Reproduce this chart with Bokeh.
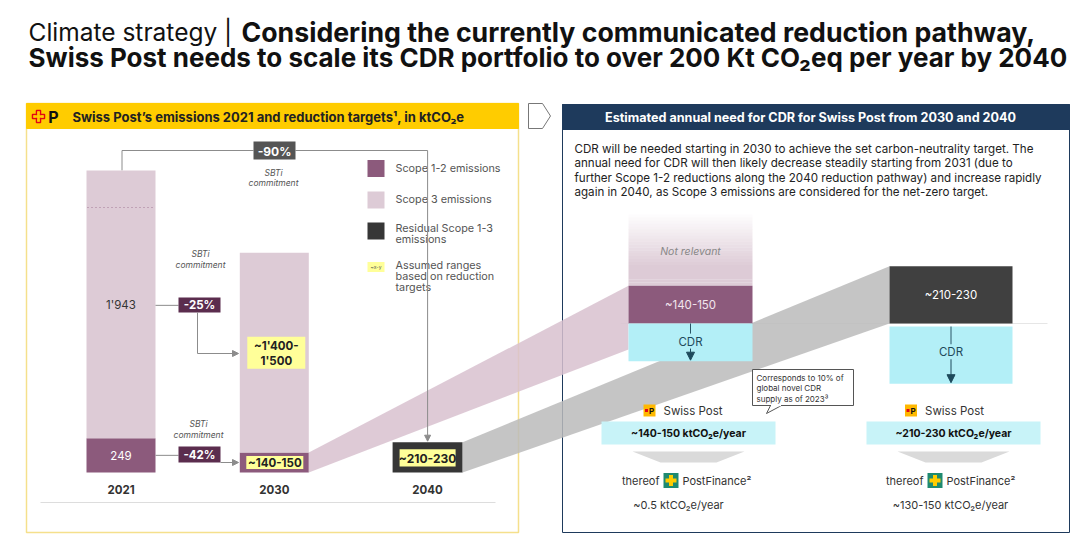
from bokeh.plotting import figure
from bokeh.models import Range1d, Arrow, NormalHead
from bokeh.core.properties import value
from bokeh.embed import file_html
from bokeh.resources import INLINE

# ---------------- data ----------------
years = ["2021", "2030", "2040"]
scope3_kt = [1943, 1450]            # 2021, 2030 (~1'400-1'500)
scope12_kt = [249, 145]             # 2021, 2030 (~140-150)
residual_kt = 220                   # 2040 (~210-230)
scope3_labels = [["1'943"], ["~1'400-", "1'500"]]
scope12_labels = ["249", "~140-150"]
residual_label = "~210-230"
reduction_labels = ["-25%", "-42%", "-90%"]
cdr_years = ["2030", "2040"]
cdr_need_kt = [145, 220]
cdr_top_labels = ["~140-150", "~210-230"]
cdr_need_labels = ["~140-150 ktCO\u2082e/year", "~210-230 ktCO\u2082e/year"]
postfinance_labels = ["~0.5 ktCO\u2082e/year", "~130-150 ktCO\u2082e/year"]
legend_labels = [["Scope 1-2 emissions"], ["Scope 3 emissions"],
                 ["Residual Scope 1-3", "emissions"],
                 ["Assumed ranges", "based on reduction", "targets"]]
paragraph = ["CDR will be needed starting in 2030 to achieve the set carbon-neutrality target. The",
             "annual need for CDR will then likely decrease steadily starting from 2031 (due to",
             "further Scope 1-2 reductions along the 2040 reduction pathway) and increase rapidly",
             "again in 2040, as Scope 3 emissions are considered for the net-zero target."]

# ---------------- colours ----------------
C_S3 = "#DDCBD6"
C_S12 = "#8C5A7C"
C_RES = "#363636"
C_YEL = "#FFFF99"
C_RED = "#5B2D4E"
C_CYAN = "#B3EFF7"
C_CYAN2 = "#C8F3F8"
C_NAVY = "#1E3A5C"
C_LINE = "#8C8C8C"
FONT = "Inter"

W, H = 1080, 537
p = figure(width=W, height=H, x_range=Range1d(0, W), y_range=Range1d(H, 0),
           output_backend="svg", toolbar_location=None, x_axis_type=None, y_axis_type=None,
           min_border=0)
p.outline_line_color = None
p.background_fill_color = "white"
p.border_fill_color = "white"


def box(x0, x1, y0, y1, fill, line=None, lw=1, alpha=1.0):
    p.quad(left=[x0], right=[x1], top=[y0], bottom=[y1], fill_color=fill, fill_alpha=alpha,
           line_color=line, line_width=lw)


def txt(x, y, s, size=11, color="#333333", style="normal", align="center",
        baseline="middle", font=FONT):
    p.text(x=[x], y=[y], text=[s], text_font=value(font), text_font_size=f"{size}px",
           text_color=color, text_font_style=style, text_align=align, text_baseline=baseline)


def arrow(x0, y0, x1, y1, color=C_LINE, size=6, lw=1):
    p.add_layout(Arrow(end=NormalHead(size=size, fill_color=color, line_color=color),
                       x_start=x0, y_start=y0, x_end=x1, y_end=y1,
                       line_color=color, line_width=lw))


# ---------------- title ----------------
txt(28, 31, "Climate strategy |", 24.5, "#111111", align="left", baseline="alphabetic")
txt(241, 31, "Considering the currently communicated reduction pathway,", 26.7, "#111111",
    "bold", align="left", baseline="alphabetic")
txt(28, 57, "Swiss Post needs to scale its CDR portfolio to over 200 Kt CO\u2082eq per year by 2040",
    26, "#111111", "bold", align="left", baseline="alphabetic")

# ---------------- panels ----------------
box(26, 518, 103, 532, None, "#F5E08C", 1.5)
box(26, 518, 103, 128, "#FFCC00", "#FFCC00")
# Swiss Post logo in header
box(36, 40, 110, 122, None, "#E30613", 1.5)
box(32, 44, 114, 118, None, "#E30613", 1.5)
box(36.7, 39.3, 111, 121, "#FFCC00", None)
box(33, 43, 114.7, 117.3, "#FFCC00", None)
txt(53, 116, "P", 16, "#111111", "bold")
txt(72, 116, "Swiss Post\u2019s emissions 2021 and reduction targets\u00b9, in ktCO\u2082e", 13,
    "#222222", "bold", align="left")
# chevron
p.patch([528, 542, 550, 542, 528], [103, 103, 115.5, 128, 128], fill_color="white",
        line_color="#777777", line_width=1)

box(562, 1069, 104, 532, None, C_NAVY, 1)
box(562, 1069, 104, 129, C_NAVY, C_NAVY)
txt(810, 116.5, "Estimated annual need for CDR for Swiss Post from 2030 and 2040", 12.6, "white", "bold")
for i, line in enumerate(paragraph):
    txt(574, 148 + i * 14.5, line, 11.6, "#222222", align="left")

# ---------------- left chart ----------------
L_BASE = 472.0
L_SCALE = 302.0 / 2192.0


def ly(v):
    return L_BASE - v * L_SCALE


bar_x = {yr: 120.5 + i * 153.3 for i, yr in enumerate(years)}
BW = 69

# separator and year labels
p.line([40, 495], [502, 502], line_color="#DDDDDD", line_width=1)
for yr in years:
    txt(bar_x[yr], 489, yr, 11.5, "#333333", "bold")

# -90% connector (drawn before the legend text)
x21, x40 = bar_x["2021"] + 1, bar_x["2040"]
p.line([x21, x21, 253], [ly(scope12_kt[0] + scope3_kt[0]), 150, 150], line_color=C_LINE)
p.line([295, x40], [150, 150], line_color=C_LINE)
arrow(x40, 150, x40, ly(residual_kt) - 1)

# bars
for i, yr in enumerate(years[:2]):
    xc = bar_x[yr]
    box(xc - BW / 2, xc + BW / 2, ly(0), ly(scope12_kt[i]), C_S12)
    box(xc - BW / 2, xc + BW / 2, ly(scope12_kt[i]), ly(scope12_kt[i] + scope3_kt[i]), C_S3)
# dotted line in 2021 bar
p.line([bar_x["2021"] - 34, bar_x["2021"] + 34], [207, 207], line_color="#C0A2B6",
       line_dash="2 2", line_width=1)

# labels 2021
y3_21 = (ly(scope12_kt[0]) + ly(scope12_kt[0] + scope3_kt[0])) / 2
y12_21 = (ly(0) + ly(scope12_kt[0])) / 2
txt(bar_x["2021"], y3_21 + 1, scope3_labels[0][0], 11.5, "#333333")
txt(bar_x["2021"], y12_21, scope12_labels[0], 11.5, "white")

# labels 2030 (assumed ranges)
xc = bar_x["2030"]
y3_30 = (ly(scope12_kt[1]) + ly(scope12_kt[1] + scope3_kt[1])) / 2
y12_30 = (ly(0) + ly(scope12_kt[1])) / 2
box(xc - 27, xc + 31, y3_30 - 16, y3_30 + 16, C_YEL)
txt(xc + 2, y3_30 - 7, scope3_labels[1][0], 11.5, "#222222", "bold")
txt(xc + 2, y3_30 + 8, scope3_labels[1][1], 11.5, "#222222", "bold")
box(xc - 28, xc + 29, y12_30 - 6.5, y12_30 + 6.5, C_YEL)
txt(xc + 0.5, y12_30 + 0.5, scope12_labels[1], 11.5, "#222222", "bold")

# 2040 residual
box(x40 - 35, x40 + 35, ly(0), ly(residual_kt), C_RES)
box(x40 - 28, x40 + 28, ly(0) - 6, ly(residual_kt) + 7, C_YEL)
txt(x40, (ly(0) + ly(residual_kt)) / 2 + 1, residual_label, 12, "#222222", "bold")

# reduction boxes
box(253, 295, 141, 159, "#555555")
txt(274, 150.5, reduction_labels[2], 12, "white", "bold")
txt(273, 172, "SBTi", 8.5, "#555555", "italic")
txt(273, 182, "commitment", 8.5, "#555555", "italic")

p.line([155, 178], [y3_21 + 1, y3_21 + 1], line_color=C_LINE)
box(178, 220, 297, 312, C_RED)
txt(199, 304.5, reduction_labels[0], 11.5, "white", "bold")
p.line([197, 197, 225], [312, 353, 353], line_color=C_LINE)
arrow(224, 353, 238, 353)
txt(200, 253, "SBTi", 8.5, "#555555", "italic")
txt(200, 264, "commitment", 8.5, "#555555", "italic")

p.line([155, 178], [y12_21, y12_21], line_color=C_LINE)
box(178, 220, 446, 462, C_RED)
txt(199, 454.5, reduction_labels[1], 11.5, "white", "bold")
arrow(220, 462, 238, 462)
txt(198, 423, "SBTi", 8.5, "#555555", "italic")
txt(198, 434, "commitment", 8.5, "#555555", "italic")

# legend
leg_fill = [C_S12, C_S3, C_RES]
leg_y = [168, 199.5, 230.5]
for f, yy in zip(leg_fill, leg_y):
    box(367, 384, yy - 8.5, yy + 8.5, f)
box(367, 384, 261.5, 271.5, C_YEL)
txt(375.5, 266.5, "~x-y", 5, "#555555")
leg_text_y = [[168], [199], [228, 239], [265, 276, 286.5]]
for lines, ys in zip(legend_labels, leg_text_y):
    for s, yy in zip(lines, ys):
        txt(395, yy, s, 10.8, "#555555", align="left")

# ---------------- right chart ----------------
R_BASE = 323.0
R_SCALE = 0.26
col = {"2030": (628, 752), "2040": (889, 1012)}
cdr_gap = [0, 3]

p.line([620, 1047], [R_BASE, R_BASE], line_color="#E6E6E6", line_width=1)

# connecting bands
x0, x1 = bar_x["2030"] + BW / 2, col["2030"][0]
p.patch([x0, x1, x1, x0], [ly(scope12_kt[1]), R_BASE - cdr_need_kt[0] * R_SCALE, 349, ly(0)],
        fill_color="#D8C1CF", fill_alpha=0.85, line_color=None)
x0, x1 = x40 + 35, col["2040"][0]
p.patch([x0, x1, x1, x0], [ly(residual_kt), R_BASE - cdr_need_kt[1] * R_SCALE, R_BASE, ly(0)],
        fill_color="#BBBBBB", fill_alpha=0.85, line_color=None)

# "Not relevant" faded block (2030)
l30, r30 = col["2030"]
top12 = R_BASE - cdr_need_kt[0] * R_SCALE
n = 24
for k in range(n):
    y0 = 214 + k * (top12 - 214) / n
    y1 = 214 + (k + 1) * (top12 - 214) / n
    box(l30, r30, y0, y1, C_S3, None, alpha=min(1.0, (k + 1) / (n * 0.75)))
txt((l30 + r30) / 2, 251, "Not relevant", 10.5, "#888888", "italic")

for i, yr in enumerate(cdr_years):
    l, r = col[yr]
    xc = (l + r) / 2
    h = cdr_need_kt[i] * R_SCALE
    top_fill = C_S12 if yr == "2030" else "#404040"
    box(l, r, R_BASE - h, R_BASE, top_fill)
    txt(xc, R_BASE - h / 2, cdr_top_labels[i], 11.5, "white" if yr == "2040" else "#F2E6EE")
    g = cdr_gap[i]
    box(l, r, R_BASE + g, R_BASE + g + h, C_CYAN)
    ty = R_BASE + g + (h * 0.48 if yr == "2030" else h * 0.45)
    txt(xc, ty, "CDR", 11.5, "#1E4A5C")
    p.line([xc, xc], [R_BASE + g, ty - 8], line_color="#2A5566", line_width=1)
    arrow(xc, ty + 7, xc, R_BASE + g + h - 1, color="#1E4A5C", size=8)

    # Swiss Post logo and label
    lx = xc - 47 if yr == "2030" else xc - 46
    box(lx, lx + 12, 404, 416, "#FFB800", None)
    box(lx + 1.5, lx + 4.5, 408.5, 411.5, "#E30613", None)
    txt(lx + 8, 410.5, "P", 8, "#111111", "bold")
    txt(lx + 20, 410, "Swiss Post", 11.5, "#333333", align="left")
    # need box
    cx = 688 if yr == "2030" else 953
    box(cx - 87, cx + 87, 421, 444, C_CYAN2)
    txt(cx, 433, cdr_need_labels[i], 10.5, "#111111", "bold")
    # down chevron
    p.patch([cx - 56, cx + 56, cx + 28, cx - 28], [451, 451, 462, 462],
            fill_color="#DADADA", line_color=None)
    # PostFinance row
    bx = 663 if yr == "2030" else 927
    txt(bx - 4, 480, "thereof", 11, "#333333", align="right")
    box(bx, bx + 15, 472.5, 487.5, "#1F8A70", None)
    box(bx + 5.5, bx + 9.5, 474.5, 485.5, "#FFCC00", None)
    box(bx + 2, bx + 13, 478, 482, "#FFCC00", None)
    txt(bx + 19, 480, "PostFinance\u00b2", 11, "#333333", align="left")
    txt(cx - 10 if yr == "2030" else cx - 3, 504, postfinance_labels[i], 11, "#333333")

# callout
p.patch([770, 781, 766], [405, 405, 413], fill_color="white", line_color="#555555")
box(752, 853, 369, 405, "white", "#555555", 1)
p.line([770.5, 780.5], [405, 405], line_color="white", line_width=1.5)
for k, s in enumerate(["Corresponds to 10% of", "global novel CDR", "supply as of 2023\u00b3"]):
    txt(756, 377 + k * 10.5, s, 8, "#333333", align="left")

open("out.html", "w").write(file_html(p, INLINE))
